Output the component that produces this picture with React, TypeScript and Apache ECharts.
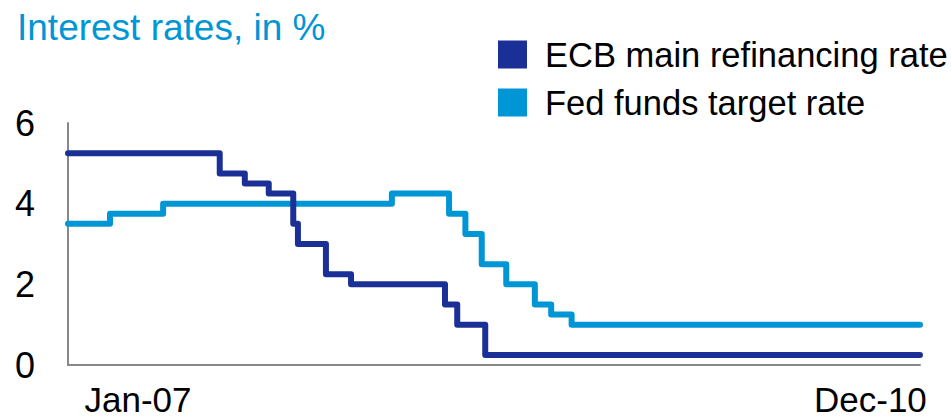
import React, { useEffect, useRef } from "react";
import * as echarts from "echarts";

const TITLE = "Interest rates, in %";
const SERIES_NAMES = ["ECB main refinancing rate", "Fed funds target rate"];

// Dark series (as drawn in the reference, labelled ECB main refinancing rate)
const darkDates = [
  "2007-01-01", "2007-09-18", "2007-10-31", "2007-12-11", "2008-01-22", "2008-01-30",
  "2008-03-18", "2008-04-30", "2008-10-08", "2008-10-29", "2008-12-16", "2010-12-31",
];
const darkValues = [5.25, 4.75, 4.5, 4.25, 3.5, 3.0, 2.25, 2.0, 1.5, 1.0, 0.25, 0.25];

// Light series (as drawn in the reference, labelled Fed funds target rate)
const lightDates = [
  "2007-01-01", "2007-03-14", "2007-06-13", "2008-07-09", "2008-10-15", "2008-11-12",
  "2008-12-10", "2009-01-21", "2009-03-11", "2009-04-08", "2009-05-13", "2010-12-31",
];
const lightValues = [3.5, 3.75, 4.0, 4.25, 3.75, 3.25, 2.5, 2.0, 1.5, 1.25, 1.0, 1.0];

const xTickDates = ["2007-05-01", "2010-10-07"];
const xTickLabels = ["Jan-07", "Dec-10"];
const yTicks = [0, 2, 4, 6];

const X_MIN = "2007-01-01";
const X_MAX = "2010-12-31";

const DARK = "#1B3097";
const LIGHT = "#0096D6";
const FONT = "Liberation Sans, Arial, sans-serif";

export default function App() {
  const ref = useRef<HTMLDivElement>(null);

  useEffect(() => {
    if (!ref.current) return;
    const chart = echarts.init(ref.current, undefined, { renderer: "svg" });
    const tickTimes = xTickDates.map((d) => Date.parse(d));
    const option: any = {
      animation: false,
      backgroundColor: "#ffffff",
      textStyle: { fontFamily: FONT },
      title: {
        text: TITLE,
        left: 17,
        top: 9,
        padding: 0,
        textStyle: { color: LIGHT, fontSize: 37, fontWeight: "normal", fontFamily: FONT },
      },
      legend: {
        orient: "vertical",
        left: 498,
        top: 37,
        padding: 0,
        itemWidth: 29,
        itemHeight: 28,
        itemGap: 13,
        icon: "rect",
        textStyle: {
          color: "#000",
          fontSize: 34.5,
          lineHeight: 28,
          fontFamily: FONT,
          padding: [0, 0, 0, 13],
        },
        data: SERIES_NAMES,
      },
      grid: { left: 68, right: 31, top: 123, bottom: 54, containLabel: false },
      xAxis: [
        {
          type: "time",
          min: X_MIN,
          max: X_MAX,
          axisLine: { show: true, lineStyle: { color: "#888888", width: 2 } },
          axisTick: { show: false },
          splitLine: { show: false },
          axisLabel: { show: false },
        },
        {
          type: "value",
          position: "bottom",
          min: Date.parse(X_MIN),
          max: Date.parse(X_MAX),
          axisLine: { show: false },
          axisTick: { show: false },
          splitLine: { show: false },
          axisLabel: {
            customValues: tickTimes,
            color: "#000",
            fontSize: 35,
            lineHeight: 28,
            fontFamily: FONT,
            margin: 20,
            formatter: (v: number) => {
              let best = 0;
              let bd = Infinity;
              tickTimes.forEach((t, i) => {
                const d = Math.abs(t - v);
                if (d < bd) { bd = d; best = i; }
              });
              return xTickLabels[best];
            },
          },
        },
      ],
      yAxis: {
        type: "value",
        min: yTicks[0],
        max: yTicks[yTicks.length - 1],
        interval: 2,
        axisLine: { show: true, lineStyle: { color: "#888888", width: 2 } },
        axisTick: { show: false },
        splitLine: { show: false },
        axisLabel: { color: "#000", fontSize: 36, fontFamily: FONT, margin: 33 },
      },
      series: [
        {
          name: SERIES_NAMES[0],
          type: "line",
          xAxisIndex: 0,
          step: "end",
          showSymbol: false,
          symbol: "none",
          color: DARK,
          lineStyle: { color: DARK, width: 6, cap: "round", join: "round" },
          data: darkDates.map((d, i) => [d, darkValues[i]]),
          z: 3,
        },
        {
          name: SERIES_NAMES[1],
          type: "line",
          xAxisIndex: 0,
          step: "end",
          showSymbol: false,
          symbol: "none",
          color: LIGHT,
          lineStyle: { color: LIGHT, width: 6, cap: "round", join: "round" },
          data: lightDates.map((d, i) => [d, lightValues[i]]),
          z: 2,
        },
      ],
    };
    chart.setOption(option);
    return () => chart.dispose();
  }, []);

  return (
    <div
      ref={ref}
      style={{ position: "fixed", left: 0, top: 0, width: 951, height: 419, background: "#fff" }}
    />
  );
}
